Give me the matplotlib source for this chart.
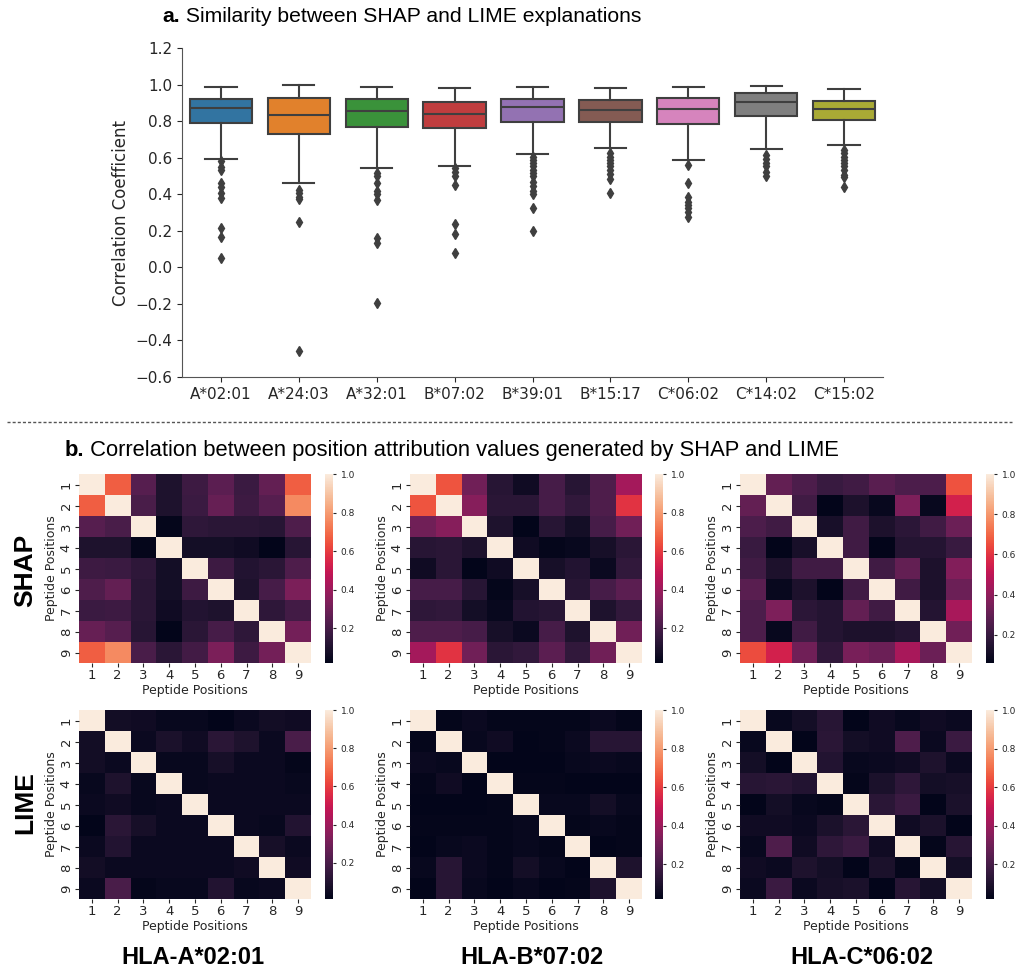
import numpy as np
import matplotlib
matplotlib.use("Agg")
import matplotlib.pyplot as plt
import seaborn as sns
from matplotlib.lines import Line2D

# ---- panel a data (box summary values) ----
alleles = ["A*02:01", "A*24:03", "A*32:01", "B*07:02", "B*39:01",
           "B*15:17", "C*06:02", "C*14:02", "C*15:02"]
box_med = [0.871, 0.835, 0.855, 0.840, 0.875, 0.860, 0.864, 0.902, 0.866]
box_q1 = [0.787, 0.727, 0.767, 0.763, 0.796, 0.796, 0.785, 0.829, 0.807]
box_q3 = [0.920, 0.924, 0.919, 0.902, 0.920, 0.915, 0.926, 0.952, 0.908]
box_lo = [0.592, 0.464, 0.542, 0.557, 0.621, 0.654, 0.588, 0.648, 0.667]
box_hi = [0.984, 0.997, 0.986, 0.979, 0.984, 0.983, 0.986, 0.994, 0.974]
box_fliers = [
    [0.58, 0.55, 0.53, 0.464, 0.44, 0.405, 0.38, 0.217, 0.164, 0.053],
    [0.424, 0.405, 0.384, 0.373, 0.247, -0.46],
    [0.515, 0.497, 0.46, 0.415, 0.40, 0.369, 0.159, 0.135, -0.195],
    [0.542, 0.524, 0.502, 0.451, 0.236, 0.181, 0.077],
    [0.606, 0.588, 0.57, 0.552, 0.533, 0.515, 0.497, 0.469, 0.447, 0.415, 0.40, 0.327, 0.20],
    [0.625, 0.606, 0.588, 0.57, 0.552, 0.533, 0.511, 0.484, 0.405],
    [0.561, 0.46, 0.387, 0.36, 0.342, 0.323, 0.305, 0.274],
    [0.616, 0.592, 0.57, 0.552, 0.524, 0.50],
    [0.643, 0.625, 0.606, 0.588, 0.57, 0.552, 0.53, 0.506, 0.493, 0.442],
]
box_colors = ["#3274A1", "#E1812C", "#3A923A", "#C03D3E", "#9372B2",
              "#845B53", "#D684BD", "#7F7F7F", "#A9AA35"]

# ---- panel b data (position x position correlation, read by colour) ----
positions = [1, 2, 3, 4, 5, 6, 7, 8, 9]
hla_names = ["HLA-A*02:01", "HLA-B*07:02", "HLA-C*06:02"]

shap_a0201 = [
    [1.00, 0.67, 0.24, 0.10, 0.18, 0.25, 0.17, 0.27, 0.67],
    [0.67, 1.00, 0.21, 0.10, 0.17, 0.28, 0.18, 0.24, 0.76],
    [0.24, 0.21, 1.00, 0.03, 0.14, 0.13, 0.13, 0.12, 0.22],
    [0.10, 0.10, 0.03, 1.00, 0.07, 0.07, 0.06, 0.02, 0.12],
    [0.18, 0.17, 0.14, 0.07, 1.00, 0.18, 0.11, 0.13, 0.22],
    [0.22, 0.27, 0.13, 0.07, 0.18, 1.00, 0.10, 0.20, 0.33],
    [0.17, 0.18, 0.13, 0.06, 0.11, 0.10, 1.00, 0.14, 0.19],
    [0.28, 0.24, 0.12, 0.02, 0.13, 0.20, 0.14, 1.00, 0.31],
    [0.67, 0.76, 0.21, 0.13, 0.19, 0.33, 0.18, 0.31, 1.00],
]
shap_b0702 = [
    [1.00, 0.65, 0.30, 0.12, 0.06, 0.20, 0.12, 0.22, 0.42],
    [0.65, 1.00, 0.35, 0.13, 0.13, 0.20, 0.15, 0.22, 0.58],
    [0.30, 0.35, 1.00, 0.10, 0.02, 0.12, 0.07, 0.20, 0.30],
    [0.12, 0.13, 0.10, 1.00, 0.06, 0.03, 0.04, 0.08, 0.13],
    [0.06, 0.13, 0.02, 0.06, 1.00, 0.08, 0.11, 0.05, 0.15],
    [0.20, 0.20, 0.12, 0.03, 0.08, 1.00, 0.12, 0.20, 0.25],
    [0.14, 0.15, 0.07, 0.04, 0.11, 0.12, 1.00, 0.10, 0.15],
    [0.22, 0.22, 0.20, 0.08, 0.05, 0.20, 0.10, 1.00, 0.30],
    [0.42, 0.58, 0.30, 0.13, 0.15, 0.25, 0.15, 0.30, 1.00],
]
shap_c0602 = [
    [1.00, 0.30, 0.25, 0.20, 0.22, 0.28, 0.25, 0.25, 0.66],
    [0.30, 1.00, 0.22, 0.06, 0.13, 0.08, 0.36, 0.08, 0.55],
    [0.25, 0.22, 1.00, 0.12, 0.22, 0.13, 0.17, 0.22, 0.32],
    [0.20, 0.06, 0.12, 1.00, 0.22, 0.06, 0.15, 0.15, 0.20],
    [0.22, 0.13, 0.22, 0.22, 1.00, 0.22, 0.30, 0.13, 0.37],
    [0.28, 0.08, 0.13, 0.06, 0.22, 1.00, 0.22, 0.13, 0.32],
    [0.25, 0.36, 0.17, 0.15, 0.30, 0.22, 1.00, 0.15, 0.45],
    [0.25, 0.08, 0.22, 0.15, 0.13, 0.13, 0.15, 1.00, 0.33],
    [0.65, 0.55, 0.33, 0.18, 0.35, 0.32, 0.45, 0.32, 1.00],
]
lime_a0201 = [
    [1.00, 0.06, 0.05, 0.03, 0.03, 0.01, 0.04, 0.06, 0.05],
    [0.06, 1.00, 0.04, 0.08, 0.05, 0.12, 0.09, 0.04, 0.20],
    [0.06, 0.04, 1.00, 0.03, 0.03, 0.07, 0.04, 0.04, 0.02],
    [0.03, 0.09, 0.03, 1.00, 0.03, 0.04, 0.04, 0.04, 0.03],
    [0.04, 0.05, 0.03, 0.04, 1.00, 0.04, 0.04, 0.04, 0.04],
    [0.01, 0.12, 0.07, 0.04, 0.04, 1.00, 0.04, 0.03, 0.10],
    [0.04, 0.10, 0.04, 0.04, 0.04, 0.04, 1.00, 0.07, 0.04],
    [0.06, 0.04, 0.04, 0.04, 0.04, 0.04, 0.05, 1.00, 0.05],
    [0.04, 0.20, 0.02, 0.03, 0.03, 0.10, 0.03, 0.04, 1.00],
]
lime_b0702 = [
    [1.00, 0.03, 0.05, 0.03, 0.03, 0.03, 0.03, 0.05, 0.03],
    [0.03, 1.00, 0.04, 0.06, 0.02, 0.03, 0.05, 0.12, 0.12],
    [0.05, 0.04, 1.00, 0.02, 0.02, 0.02, 0.04, 0.05, 0.04],
    [0.03, 0.06, 0.02, 1.00, 0.03, 0.03, 0.02, 0.02, 0.02],
    [0.02, 0.02, 0.02, 0.03, 1.00, 0.04, 0.04, 0.07, 0.04],
    [0.03, 0.03, 0.03, 0.03, 0.04, 1.00, 0.03, 0.04, 0.03],
    [0.02, 0.04, 0.05, 0.03, 0.04, 0.03, 1.00, 0.02, 0.03],
    [0.04, 0.12, 0.05, 0.03, 0.07, 0.04, 0.02, 1.00, 0.10],
    [0.02, 0.12, 0.04, 0.02, 0.04, 0.02, 0.03, 0.10, 1.00],
]
lime_c0602 = [
    [1.00, 0.04, 0.07, 0.12, 0.02, 0.06, 0.04, 0.06, 0.05],
    [0.04, 1.00, 0.02, 0.13, 0.07, 0.06, 0.22, 0.05, 0.17],
    [0.07, 0.02, 1.00, 0.11, 0.04, 0.05, 0.06, 0.10, 0.05],
    [0.12, 0.13, 0.11, 1.00, 0.03, 0.09, 0.14, 0.07, 0.08],
    [0.02, 0.07, 0.04, 0.03, 1.00, 0.13, 0.17, 0.02, 0.09],
    [0.06, 0.06, 0.05, 0.09, 0.13, 1.00, 0.06, 0.09, 0.02],
    [0.04, 0.22, 0.06, 0.14, 0.17, 0.06, 1.00, 0.03, 0.12],
    [0.06, 0.05, 0.10, 0.07, 0.02, 0.09, 0.03, 1.00, 0.07],
    [0.05, 0.17, 0.05, 0.08, 0.09, 0.02, 0.12, 0.07, 1.00],
]

W, H = 1018, 972
fig = plt.figure(figsize=(W / 100, H / 100), dpi=100)
fig.patch.set_facecolor("white")

def fx(px):
    return px / W

def fy(px):
    return 1 - px / H

title_font = "Liberation Sans"

# ---------------- panel a ----------------
ax = fig.add_axes([fx(182), fy(377), fx(883 - 182), (377 - 48) / H])
line_gray = "#3f3f3f"
stats = []
for i in range(len(alleles)):
    stats.append(dict(med=box_med[i], q1=box_q1[i], q3=box_q3[i],
                      whislo=box_lo[i], whishi=box_hi[i], fliers=box_fliers[i]))
bp = ax.bxp(stats, positions=np.arange(len(alleles)), widths=0.8,
            patch_artist=True, showfliers=True,
            boxprops=dict(edgecolor=line_gray, linewidth=1.5),
            medianprops=dict(color=line_gray, linewidth=1.5),
            whiskerprops=dict(color=line_gray, linewidth=1.5),
            capprops=dict(color=line_gray, linewidth=1.5),
            flierprops=dict(marker="d", markerfacecolor=line_gray,
                            markeredgecolor=line_gray, markersize=5))
for patch, c in zip(bp["boxes"], box_colors):
    patch.set_facecolor(c)
ax.set_xlim(-0.5, len(alleles) - 0.5)
ax.set_ylim(-0.6, 1.2)
ax.set_yticks(np.arange(-0.6, 1.21, 0.2))
ax.set_xticks(np.arange(len(alleles)))
ax.set_xticklabels(alleles)
ax.tick_params(labelsize=11, colors="#262626")
ax.set_ylabel("Correlation Coefficient", fontsize=12, color="#262626")
for s in ["top", "right"]:
    ax.spines[s].set_visible(False)
for s in ["left", "bottom"]:
    ax.spines[s].set_color("#555555")

ta = fig.text(fx(162), fy(17), "a.", fontsize=15.2, fontweight="bold",
              family=title_font, va="center")
ax.annotate(" Similarity between SHAP and LIME explanations", xy=(1, 0),
            xycoords=ta, va="bottom", ha="left", fontsize=15.2, family=title_font)

# separator
fig.add_artist(Line2D([fx(7), fx(1012)], [fy(422), fy(422)], transform=fig.transFigure,
                      color="#555555", linestyle=(0, (2.2, 1.5)), linewidth=1))

# ---------------- panel b ----------------
tb = fig.text(fx(65), fy(450), "b.", fontsize=15.8, fontweight="bold",
              family=title_font, va="center")
ax.annotate(" Correlation between position attribution values generated by SHAP and LIME",
            xy=(1, 0), xycoords=tb, va="bottom", ha="left", fontsize=15.8,
            family=title_font)

mats = [[shap_a0201, shap_b0702, shap_c0602],
        [lime_a0201, lime_b0702, lime_c0602]]
hm_left = [79, 410, 740]
cb_left = [325, 655, 986]
row_top = [474, 710]
hm_w, hm_h, cb_w = 232, 189, 8

for r in range(2):
    for c in range(3):
        hax = fig.add_axes([fx(hm_left[c]), fy(row_top[r] + hm_h), fx(hm_w), hm_h / H])
        cax = fig.add_axes([fx(cb_left[c]), fy(row_top[r] + hm_h), fx(cb_w), hm_h / H])
        sns.heatmap(np.array(mats[r][c]), ax=hax, cbar_ax=cax, cmap="rocket",
                    xticklabels=positions, yticklabels=positions)
        hax.tick_params(labelsize=9.5, colors="#262626", length=3, pad=1.5)
        hax.set_xlabel("Peptide Positions", fontsize=9, color="#262626", labelpad=1.5)
        hax.set_ylabel("Peptide Positions", fontsize=9, color="#262626", labelpad=1.5)
        cax.tick_params(labelsize=6.5, colors="#262626", length=2)

fig.text(fx(25), fy(570), "SHAP", rotation=90, fontsize=19, fontweight="bold",
         family=title_font, ha="center", va="center")
fig.text(fx(25), fy(803), "LIME", rotation=90, fontsize=19, fontweight="bold",
         family=title_font, ha="center", va="center")
for name, xc in zip(hla_names, [193, 532, 862]):
    fig.text(fx(xc), fy(957), name, fontsize=17, fontweight="bold",
             family=title_font, ha="center", va="center")

fig.savefig("out.png", dpi=100)
